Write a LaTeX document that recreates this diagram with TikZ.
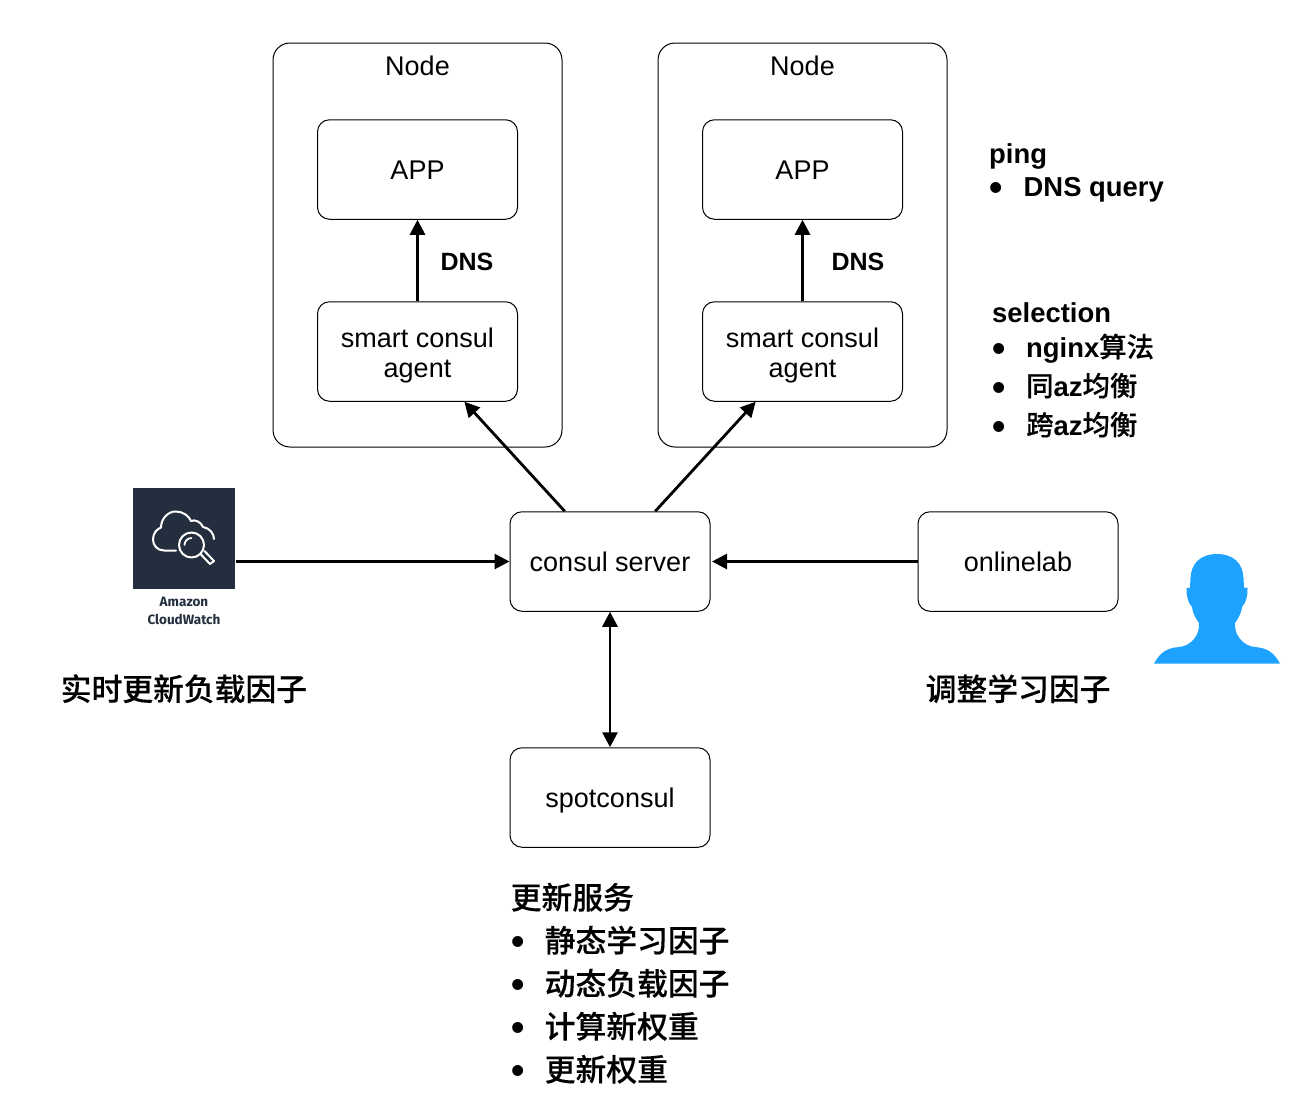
\documentclass[tikz,border=0pt]{standalone}
\usepackage{fontspec}
\setmainfont{Liberation Sans}
\newfontfamily\cjk[BoldFont={Noto Sans CJK SC Medium},FakeBold=0.25,BoldFeatures={FakeBold=0.25}]{Noto Sans CJK SC Medium}
\newfontfamily\awsfont{Fira Sans}
\usetikzlibrary{arrows.meta}
\definecolor{awsdark}{HTML}{232F3E}
\definecolor{personblue}{HTML}{1EA2FF}
\tikzset{
  x=1pt,y=-1pt,
  outerbox/.style={draw=black,line width=1pt,rounded corners=17pt,minimum width=289pt,minimum height=404pt,inner sep=0pt},
  innerbox/.style={draw=black,line width=1pt,rounded corners=12pt,minimum width=200pt,minimum height=99.5pt,inner sep=0pt,align=center,font=\fontsize{27}{30.5}\selectfont},
  onebox/.style={innerbox,text height=20pt,text depth=0pt},
  plainlabel/.style={inner sep=0pt,font=\fontsize{27}{31}\selectfont},
  dnslabel/.style={inner sep=0pt,font=\fontsize{25}{30}\selectfont\bfseries},
  boldline/.style={inner sep=0pt,anchor=base west,font=\fontsize{27.4}{32}\selectfont\bfseries},
  cjkline/.style={inner sep=0pt,anchor=base west,font=\fontsize{30.8}{36}\selectfont\cjk},
  bulletmark/.style={inner sep=0pt,anchor=base,yshift=-4.5pt,font=\fontsize{38}{40}\selectfont\bfseries},
  conn/.style={line width=2.8pt,-{Triangle[length=15pt,width=15pt]},shorten >=0pt},
  connboth/.style={line width=2.8pt,{Triangle[length=15pt,width=15pt]}-{Triangle[length=15pt,width=15pt]}},
  iconline/.style={draw=white,line width=2pt,line cap=round,line join=round,fill=none},
}
\begin{document}
\begin{tikzpicture}
\useasboundingbox (0,0) rectangle (1308,1104);
% containers
\node[outerbox] (n1) at (417.5,245) {};
\node[outerbox] (n2) at (802.5,245) {};
\node[plainlabel] (n1t) at (417.5,66) {Node};
\node[plainlabel] (n2t) at (802.5,66) {Node};
% boxes
\node[onebox] (app1) at (417.5,169.5) {APP};
\node[onebox] (app2) at (802.5,169.5) {APP};
\node[innerbox] (ag1) at (417.5,351.5) {\rule{0pt}{28pt}smart consul\\agent};
\node[innerbox] (ag2) at (802.5,351.5) {\rule{0pt}{28pt}smart consul\\agent};
\node[onebox] (srv) at (610,561.5) {consul server};
\node[onebox] (lab) at (1018,561.5) {onlinelab};
\node[onebox] (spot) at (610,797.5) {spotconsul};
\node[dnslabel] (d1) at (467,262) {DNS};
\node[dnslabel] (d2) at (858,262) {DNS};
% cloudwatch icon
\node[fill=awsdark,minimum width=102pt,minimum height=101pt,inner sep=0pt] (cw) at (184,538.5) {};
\draw[iconline] (176,550.5) -- (164,550.5) .. controls (157,550.5) and (153,545) .. (153,539.5)
  .. controls (153,533) and (157,529) .. (161,527.5) .. controls (161,518) and (169,511) .. (176,511.5)
  .. controls (183,511.5) and (189,516) .. (191,521) .. controls (195,519) and (201,522) .. (203,527)
  .. controls (210,528) and (214,534) .. (214,539);
\draw[iconline] (191.5,545) circle[radius=12.5];
\draw[iconline,line width=1.7pt] (184.5,545) arc[start angle=180,end angle=270,radius=7];
\draw[iconline] (200.5,554) -- (210,564) -- (214,561) -- (204.5,551);
\node[inner sep=0pt,font=\fontsize{13.5}{18}\selectfont\awsfont\bfseries,text=awsdark,align=center] (cwt) at (184,611) {Amazon\\CloudWatch};
% person
\fill[personblue] (1217,554)
  .. controls (1234,554) and (1243,564) .. (1243.5,578)
  -- (1244,587.5) -- (1247.5,588) .. controls (1248,595) and (1246,603) .. (1242,607)
  .. controls (1241,615) and (1237,620) .. (1235,623)
  .. controls (1234,635) and (1243,646) .. (1255,647)
  .. controls (1268,648) and (1274,653) .. (1280,663.5)
  -- (1154,663.5)
  .. controls (1160,653) and (1166,648) .. (1179,647)
  .. controls (1191,646) and (1200,635) .. (1199,623)
  .. controls (1197,620) and (1193,615) .. (1192,607)
  .. controls (1188,603) and (1186,595) .. (1186.5,588)
  -- (1190,587.5) -- (1190.5,578)
  .. controls (1191,564) and (1200,554) .. (1217,554) -- cycle;
% connectors
\draw[conn] (ag1.north) -- (app1.south);
\draw[conn] (ag2.north) -- (app2.south);
\draw[conn] (srv.132.3) -- (ag1.-47);
\draw[conn] (srv.48.5) -- (ag2.-133);
\draw[conn] (cw.east |- srv.west) ++(1,0) -- (srv.west);
\draw[conn] (lab.west) -- ([xshift=1.5pt]srv.east);
\draw[connboth] (srv.south) -- (spot.north);
% right notes
\node[boldline] (p0) at (989,163) {ping};
\node[bulletmark] (p1b) at (996.5,196) {•};
\node[boldline] (p1) at (1023.5,196) {DNS query};
\node[boldline] (s0) at (992,322) {selection};
\node[bulletmark] (s1b) at (999.5,357) {•};
\node[boldline] (s1) at (1026,357) {nginx{\cjk 算法}};
\node[bulletmark] (s2b) at (999.5,396) {•};
\node[boldline] (s2) at (1026,396) {{\cjk 同}az{\cjk 均衡}};
\node[bulletmark] (s3b) at (999.5,435) {•};
\node[boldline] (s3) at (1026,435) {{\cjk 跨}az{\cjk 均衡}};
% captions
\node[cjkline] (c1) at (60.5,700.5) {实时更新负载因子};
\node[cjkline] (c2) at (925.5,700.5) {调整学习因子};
\node[cjkline] (u0) at (510.5,909) {更新服务};
\node[bulletmark] (u1b) at (518,950) {•};
\node[cjkline] (u1) at (544.5,952) {静态学习因子};
\node[bulletmark] (u2b) at (518,993) {•};
\node[cjkline] (u2) at (544.5,995) {动态负载因子};
\node[bulletmark] (u3b) at (518,1036) {•};
\node[cjkline] (u3) at (544.5,1038) {计算新权重};
\node[bulletmark] (u4b) at (518,1079) {•};
\node[cjkline] (u4) at (544.5,1081) {更新权重};
\end{tikzpicture}
\end{document}
